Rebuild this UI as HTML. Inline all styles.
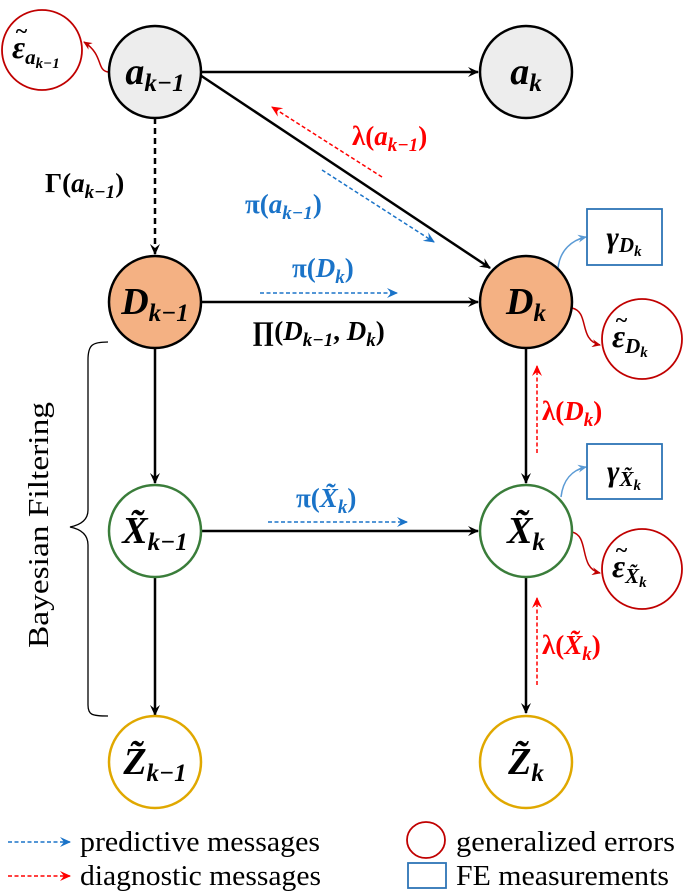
<!DOCTYPE html>
<html><head><meta charset="utf-8"><style>body{margin:0;background:#fff}svg{display:block}
text{font-family:"Liberation Serif",serif;font-weight:bold;font-style:italic}</style></head><body>
<svg width="685" height="891" viewBox="0 0 685 891" xmlns="http://www.w3.org/2000/svg">
<defs>
<marker id="ak" markerWidth="12" markerHeight="10" refX="10" refY="5" orient="auto" markerUnits="userSpaceOnUse"><path d="M0,0 L11,5 L0,10 L4,5z" fill="#000"/></marker>
<marker id="ab" markerWidth="12" markerHeight="10" refX="10" refY="5" orient="auto" markerUnits="userSpaceOnUse"><path d="M0,0 L11,5 L0,10 L4,5z" fill="#1a73c8"/></marker>
<marker id="ar" markerWidth="12" markerHeight="10" refX="10" refY="5" orient="auto" markerUnits="userSpaceOnUse"><path d="M0,0 L11,5 L0,10 L4,5z" fill="#f00"/></marker>
<marker id="ad" markerWidth="10" markerHeight="8" refX="8" refY="4" orient="auto" markerUnits="userSpaceOnUse"><path d="M0,0 L9,4 L0,8 L3,4z" fill="#c00000"/></marker>
<marker id="al" markerWidth="10" markerHeight="8" refX="8" refY="4" orient="auto" markerUnits="userSpaceOnUse"><path d="M0,0 L9,4 L0,8 L3,4z" fill="#5b9bd5"/></marker>
</defs>
<g stroke="#000" stroke-width="2.5" fill="none">
<line x1="201" y1="72" x2="478" y2="72" marker-end="url(#ak)"/>
<line x1="200" y1="75" x2="490" y2="268" marker-end="url(#ak)"/>
<line x1="155" y1="118" x2="155" y2="254" stroke-dasharray="6,4" marker-end="url(#ak)"/>
<line x1="201" y1="302" x2="478" y2="302" marker-end="url(#ak)"/>
<line x1="155" y1="348" x2="155" y2="483" marker-end="url(#ak)"/>
<line x1="201" y1="531" x2="478" y2="531" marker-end="url(#ak)"/>
<line x1="155" y1="577" x2="155" y2="715" marker-end="url(#ak)"/>
<line x1="526" y1="348" x2="526" y2="483" marker-end="url(#ak)"/>
<line x1="526" y1="577" x2="526" y2="713" marker-end="url(#ak)"/>
</g>
<g fill="none" stroke-width="1.5" stroke-dasharray="4,2.5">
<line x1="382" y1="177" x2="272" y2="107" stroke="#f00" marker-end="url(#ar)"/>
<line x1="322" y1="170" x2="434" y2="242" stroke="#1a73c8" marker-end="url(#ab)"/>
<line x1="260" y1="293" x2="397" y2="293" stroke="#1a73c8" marker-end="url(#ab)"/>
<line x1="268" y1="522" x2="407" y2="522" stroke="#1a73c8" marker-end="url(#ab)"/>
<line x1="537" y1="453" x2="537" y2="366" stroke="#f00" marker-end="url(#ar)"/>
<line x1="537" y1="685" x2="537" y2="598" stroke="#f00" marker-end="url(#ar)"/>
<line x1="8" y1="842" x2="70" y2="842" stroke="#1a73c8" marker-end="url(#ab)"/>
<line x1="8" y1="876" x2="70" y2="876" stroke="#f00" marker-end="url(#ar)"/>
</g>
<g fill="none" stroke-width="1.5">
<path d="M108,72 C96,70 104,55 84,42" stroke="#c00000" marker-end="url(#ad)"/>
<path d="M572,308 C590,312 578,340 600,345" stroke="#c00000" marker-end="url(#ad)"/>
<path d="M572,532 C590,536 578,568 600,573" stroke="#c00000" marker-end="url(#ad)"/>
<path d="M558,268 C560,250 572,240 586,237" stroke="#5b9bd5" marker-end="url(#al)"/>
<path d="M561,497 C563,480 572,470 586,467" stroke="#5b9bd5" marker-end="url(#al)"/>
<path d="M108,342 C92,342 88,345 88,360 L88,510 C88,520 80,525 70,527 C80,529 88,534 88,545 L88,705 C88,715 92,716 108,716" stroke="#000" stroke-width="1.3"/>
</g>
<g stroke-width="2.5">
<circle cx="155" cy="72" r="46" fill="#ededed" stroke="#000"/>
<circle cx="526" cy="72" r="46" fill="#ededed" stroke="#000"/>
<circle cx="155" cy="302" r="46" fill="#f4b183" stroke="#000"/>
<circle cx="526" cy="302" r="46" fill="#f4b183" stroke="#000"/>
<circle cx="155" cy="531" r="46" fill="#fff" stroke="#3a7d3a"/>
<circle cx="526" cy="531" r="46" fill="#fff" stroke="#3a7d3a"/>
<ellipse cx="155" cy="762" rx="46" ry="46" fill="#fff" stroke="#e0a800"/>
<ellipse cx="526" cy="762" rx="46" ry="46" fill="#fff" stroke="#e0a800"/>
</g>
<g stroke-width="1.8" fill="#fff">
<circle cx="42" cy="50" r="40" stroke="#c00000"/>
<circle cx="642" cy="339" r="40" stroke="#c00000"/>
<circle cx="642" cy="569" r="40" stroke="#c00000"/>
<rect x="587" y="209" width="75" height="56" stroke="#2e75b6"/>
<rect x="587" y="444" width="75" height="55" stroke="#2e75b6"/>
<ellipse cx="426" cy="840" rx="19" ry="18" stroke="#c00000"/>
<rect x="408" y="863" width="38" height="25" stroke="#2e75b6"/>
</g>
<g font-size="38" text-anchor="middle" fill="#000">
<text x="155" y="84">a<tspan font-size="25" dy="7">k−1</tspan></text>
<text x="526" y="84">a<tspan font-size="25" dy="7">k</tspan></text>
<text x="155" y="314">D<tspan font-size="25" dy="7">k−1</tspan></text>
<text x="526" y="314">D<tspan font-size="25" dy="7">k</tspan></text>
<text x="155" y="543">X̃<tspan font-size="25" dy="7">k−1</tspan></text>
<text x="526" y="543">X̃<tspan font-size="25" dy="7">k</tspan></text>
<text x="155" y="774">Z̃<tspan font-size="25" dy="7">k−1</tspan></text>
<text x="526" y="774">Z̃<tspan font-size="25" dy="7">k</tspan></text>
</g>
<g font-size="32" fill="#000">
<text x="12" y="58">ε<tspan font-size="21" dy="6">a</tspan><tspan font-size="15" dy="4">k−1</tspan></text>
<text x="15" y="38" font-size="22" font-style="normal">~</text>
<text x="612" y="347">ε<tspan font-size="21" dy="6">D</tspan><tspan font-size="15" dy="4">k</tspan></text>
<text x="615" y="327" font-size="22" font-style="normal">~</text>
<text x="612" y="577">ε<tspan font-size="21" dy="6">X̃</tspan><tspan font-size="15" dy="4">k</tspan></text>
<text x="615" y="557" font-size="22" font-style="normal">~</text>
</g>
<g font-size="30" text-anchor="middle" fill="#000">
<text x="624" y="247" font-style="normal" font-weight="normal">γ<tspan font-style="italic" font-weight="bold" font-size="21" dy="5">D</tspan><tspan font-style="italic" font-weight="bold" font-size="15" dy="4">k</tspan></text>
<text x="624" y="481" font-style="normal" font-weight="normal">γ<tspan font-style="italic" font-weight="bold" font-size="21" dy="5">X̃</tspan><tspan font-style="italic" font-weight="bold" font-size="15" dy="4">k</tspan></text>
</g>
<g font-size="27">
<text x="45" y="192" fill="#000"><tspan font-style="normal">Γ(</tspan>a<tspan font-size="19" dy="6">k−1</tspan><tspan font-style="normal" dy="-6">)</tspan></text>
<text x="352" y="145" fill="#f00"><tspan font-style="normal">λ(</tspan>a<tspan font-size="19" dy="6">k−1</tspan><tspan font-style="normal" dy="-6">)</tspan></text>
<text x="245" y="213" fill="#1a73c8"><tspan font-style="normal">π(</tspan>a<tspan font-size="19" dy="6">k−1</tspan><tspan font-style="normal" dy="-6">)</tspan></text>
<text x="292" y="277" fill="#1a73c8"><tspan font-style="normal">π(</tspan>D<tspan font-size="19" dy="6">k</tspan><tspan font-style="normal" dy="-6">)</tspan></text>
<text x="252" y="340" fill="#000"><tspan font-style="normal">∏(</tspan>D<tspan font-size="19" dy="6">k−1</tspan><tspan font-style="normal" dy="-6">, </tspan>D<tspan font-size="19" dy="6">k</tspan><tspan font-style="normal" dy="-6">)</tspan></text>
<text x="296" y="507" fill="#1a73c8"><tspan font-style="normal">π(</tspan>X̃<tspan font-size="19" dy="6">k</tspan><tspan font-style="normal" dy="-6">)</tspan></text>
<text x="542" y="420" fill="#f00"><tspan font-style="normal">λ(</tspan>D<tspan font-size="19" dy="6">k</tspan><tspan font-style="normal" dy="-6">)</tspan></text>
<text x="542" y="654" fill="#f00"><tspan font-style="normal">λ(</tspan>X̃<tspan font-size="19" dy="6">k</tspan><tspan font-style="normal" dy="-6">)</tspan></text>
</g>
<g fill="#000" style="font-style:normal;font-weight:normal">
<text x="48" y="525" text-anchor="middle" transform="rotate(-90 48 525)" style="font-style:normal;font-weight:normal;font-size:28px" textLength="246" lengthAdjust="spacingAndGlyphs">Bayesian Filtering</text>
<text x="80" y="851" style="font-style:normal;font-weight:normal;font-size:28px" textLength="240" lengthAdjust="spacingAndGlyphs">predictive messages</text>
<text x="80" y="885" style="font-style:normal;font-weight:normal;font-size:28px" textLength="241" lengthAdjust="spacingAndGlyphs">diagnostic messages</text>
<text x="456" y="851" style="font-style:normal;font-weight:normal;font-size:28px" textLength="219" lengthAdjust="spacingAndGlyphs">generalized errors</text>
<text x="456" y="885" style="font-style:normal;font-weight:normal;font-size:28px" textLength="213" lengthAdjust="spacingAndGlyphs">FE measurements</text>
</g>
</svg>
</body></html>
